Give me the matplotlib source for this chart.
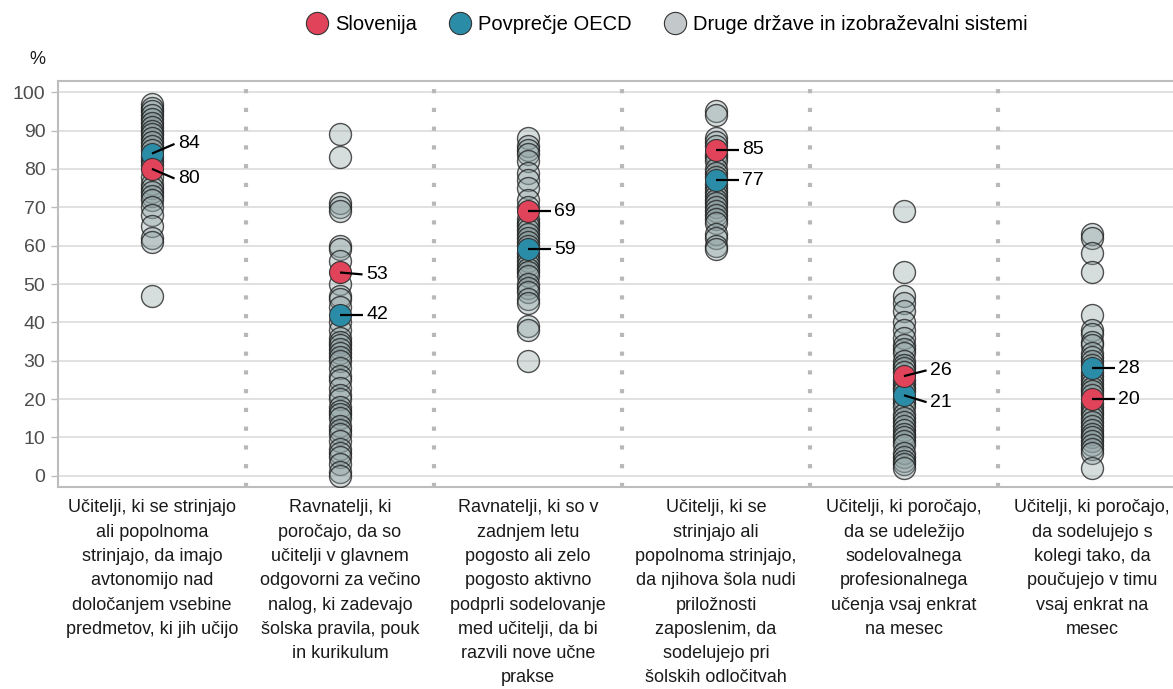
import matplotlib
matplotlib.use("Agg")
import matplotlib.pyplot as plt
from matplotlib.lines import Line2D

plt.rcParams['font.family'] = ['Liberation Sans', 'DejaVu Sans']

# category labels (already wrapped like in the reference)
categories = [
    "Učitelji, ki se strinjajo\nali popolnoma\nstrinjajo, da imajo\navtonomijo nad\ndoločanjem vsebine\npredmetov, ki jih učijo",
    "Ravnatelji, ki\nporočajo, da so\nučitelji v glavnem\nodgovorni za večino\nnalog, ki zadevajo\nšolska pravila, pouk\nin kurikulum",
    "Ravnatelji, ki so v\nzadnjem letu\npogosto ali zelo\npogosto aktivno\npodprli sodelovanje\nmed učitelji, da bi\nrazvili nove učne\nprakse",
    "Učitelji, ki se\nstrinjajo ali\npopolnoma strinjajo,\nda njihova šola nudi\npriložnosti\nzaposlenim, da\nsodelujejo pri\nšolskih odločitvah",
    "Učitelji, ki poročajo,\nda se udeležijo\nsodelovalnega\nprofesionalnega\nučenja vsaj enkrat\nna mesec",
    "Učitelji, ki poročajo,\nda sodelujejo s\nkolegi tako, da\npoučujejo v timu\nvsaj enkrat na\nmesec",
]

# other countries / systems, one list per category
others_1 = [97, 96, 95, 94, 93, 92, 91, 90, 89, 88, 87, 86, 85, 83, 82, 81, 78, 76,
            75, 74, 73, 72, 70, 68, 65, 62, 61, 47]
others_2 = [89, 83, 71, 70, 69, 60, 59, 56, 50, 47, 46, 44, 40, 38, 36, 35, 34, 33,
            32, 31, 30, 28, 26, 25, 23, 21, 20, 18, 17, 16, 15, 13, 12, 11, 9, 7, 6,
            5, 3, 1, 0]
others_3 = [88, 86, 85, 84, 82, 79, 77, 75, 72, 70, 67, 66, 65, 64, 63, 62, 61, 60,
            58, 57, 56, 55, 54, 53, 52, 50, 49, 48, 46, 45, 39, 38, 30]
others_4 = [95, 94, 88, 87, 86, 84, 83, 82, 80, 79, 78, 76, 75, 74, 73, 72, 71, 70,
            69, 68, 67, 66, 63, 62, 60, 59]
others_5 = [69, 53, 47, 45, 43, 40, 38, 36, 34, 33, 32, 30, 29, 28, 27, 25, 24, 23,
            22, 20, 19, 18, 16, 15, 14, 13, 12, 11, 10, 9, 8, 6, 5, 4, 3, 2]
others_6 = [63, 62, 58, 53, 42, 38, 37, 35, 34, 32, 31, 30, 29, 27, 26, 25, 24, 23,
            22, 21, 19, 18, 17, 16, 15, 14, 13, 12, 11, 10, 9, 8, 7, 6, 2]
others = [others_1, others_2, others_3, others_4, others_5, others_6]

slovenia = [80, 53, 69, 85, 26, 20]
oecd = [84, 42, 59, 77, 21, 28]
# where the value labels sit (y), so close pairs do not overlap
slovenia_label_y = [77.5, 52.5, 69, 85, 27.5, 20]
oecd_label_y = [86.5, 42, 59, 77, 19.2, 28]

c_slo = '#e0435a'
c_oecd = '#2b8ca7'
c_grid = '#dcdcdc'
c_axis = '#bdbdbd'

fig = plt.figure(figsize=(11.73, 6.89), dpi=100)
# the frame runs a little past the right edge, as in the reference
ax = fig.add_axes([0.0494, 0.2932, 0.9617, 0.5892])

ms = 250
for i, vals in enumerate(others):
    ax.scatter([i] * len(vals), vals, s=ms, facecolor=(0.56, 0.63, 0.64, 0.36),
               edgecolor=(0.1, 0.1, 0.1, 0.75), linewidth=1.0, zorder=3)

ax.scatter(range(6), oecd, s=ms, facecolor=c_oecd, edgecolor='#333333',
           linewidth=0.8, zorder=5)
ax.scatter(range(6), slovenia, s=ms, facecolor=c_slo, edgecolor='#333333',
           linewidth=0.8, zorder=5)

for i in range(6):
    for v, ly in ((slovenia[i], slovenia_label_y[i]), (oecd[i], oecd_label_y[i])):
        ax.plot([i, i + 0.12], [v, ly], color='black', lw=1.6, zorder=6,
                solid_capstyle='butt')
        ax.text(i + 0.14, ly, str(v), fontsize=14, va='center', ha='left',
                color='black', zorder=7)

# dotted separators between categories
for i in range(5):
    ax.axvline(i + 0.5, color='#b8b8b8', lw=3, linestyle=(0, (1, 3.5)), zorder=1)

ax.set_xlim(-0.5, 5.5)
ax.set_ylim(-2.9, 102.9)
ax.set_yticks(range(0, 101, 10))
ax.yaxis.grid(True, color=c_grid, lw=1.2, zorder=0)
ax.set_axisbelow(True)
ax.tick_params(axis='y', labelsize=14, colors='#4d4d4d', length=5, width=1,
               color=c_axis, pad=4)

ax.set_xticks(range(6))
ax.set_xticklabels(categories, fontsize=13, linespacing=1.56, color='#1a1a1a')
ax.tick_params(axis='x', length=0, pad=9)

for side in ['left', 'top', 'bottom']:
    ax.spines[side].set_color(c_axis)
    ax.spines[side].set_linewidth(1.5)
ax.spines['right'].set_visible(False)

fig.text(0.0315, 0.913, '%', fontsize=13, ha='center', va='center', color='#1a1a1a')

handles = [
    Line2D([], [], ls='none', marker='o', ms=16, mfc=c_slo, mec='#333333', mew=0.8),
    Line2D([], [], ls='none', marker='o', ms=16, mfc=c_oecd, mec='#333333', mew=0.8),
    Line2D([], [], ls='none', marker='o', ms=16, mfc='#c3c9ca', mec='#333333', mew=0.8),
]
fig.legend(handles, ['Slovenija', 'Povprečje OECD', 'Druge države in izobraževalni sistemi'],
           loc='center', bbox_to_anchor=(0.568, 0.965), ncol=3, frameon=False,
           fontsize=14.5, handletextpad=0.3, columnspacing=1.55, handlelength=1.2)

fig.savefig('out.png', dpi=100)
